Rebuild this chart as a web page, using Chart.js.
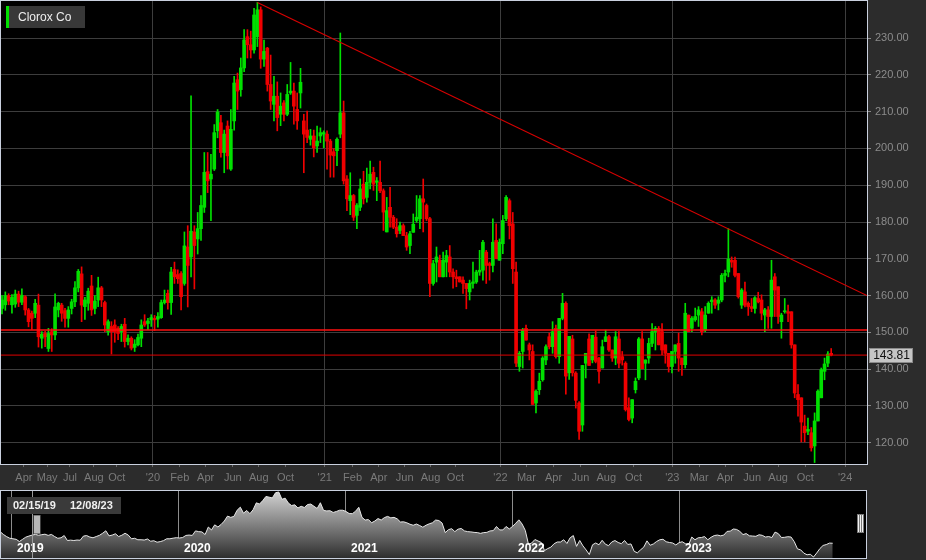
<!DOCTYPE html>
<html><head><meta charset="utf-8">
<script src="https://cdn.jsdelivr.net/npm/chart.js@4/dist/chart.umd.min.js"></script>
<style>
html,body{margin:0;padding:0;background:#2c2c2c;}
#wrap{position:relative;width:926px;height:560px;overflow:hidden;}
canvas{position:absolute;left:0;}
#main{top:0}
#nav{top:490px}
</style></head><body>
<div id="wrap"><canvas id="main" width="926" height="490"></canvas><canvas id="nav" width="926" height="70"></canvas></div>
<script>
const FONT = "'Liberation Sans', Arial, sans-serif";
const title = 'Clorox Co';
const rangeFrom = '02/15/19', rangeTo = '12/08/23';

// weekly candles from 02/15/19, index = week number
const open = [
  156.5,157.5,160,157.5,157.7,160.4,158.2,159.7,156.1,155.2,
  155.2,157.4,148.4,149.7,145.6,150.2,149.3,156.1,157.4,155.9,
  153.8,156.5,158.3,162.1,165.9,157,157.9,162.6,156.5,158.8,
  162.1,158.1,150.2,151.6,152,151.1,150.2,152.2,147.5,148.4,
  145.9,146.6,148.4,152.9,152.4,153.4,153.8,153.6,154,158.1,
  160.6,158.1,167.1,165.7,166,163.3,173.2,170.5,177.3,175.4,
  178.2,184,193.7,191.7,194.4,204.8,207,198.9,206.1,194.4,
  207.5,218.7,216,221.9,230.4,228.2,226.8,230.4,237.7,224.3,
  227.3,217.4,212,214.2,209.3,212.4,209.3,215.1,215.6,210.6,
  215.1,207.5,205,202.5,203.4,200.7,203.4,203.9,203.9,202,
  199.1,199.4,203.9,209.7,191.7,185.8,187.2,181.8,184,190.3,
  186.7,190.8,193.5,190.8,190.8,188.5,177.3,184,181.3,178.6,
  177.7,179,176.3,173.6,177.2,180.4,180.9,186.3,184.5,180.9,
  163.3,169.1,169.6,165.1,169.1,170.5,166.4,165.1,165.1,164.2,
  163.3,161,163.3,163.7,166.4,166.9,171.8,168.7,168.2,175,
  169.6,174.1,180.9,185.8,179.5,166.4,140.7,144.8,151.1,146.6,
  144.8,130.8,134.4,137.1,142.5,148.8,146.1,151.1,143.4,153.8,
  157.9,139,148.2,138.9,130.8,124.8,141.6,148.2,142.5,148.7,
  143,140.3,147.5,148.8,145.2,143,148.2,143.4,141.6,129.5,
  126.7,134.4,137.6,148.2,141.6,143,147,150.2,151.1,150.2,
  146.6,144.3,140.7,144.8,147,143,141.2,154.7,151.1,153.4,
  154.7,155.6,150.6,155.2,158.3,158.8,157.9,158.8,165.5,166.4,
  169.6,169.6,166,157.4,161,157.9,157,156.5,159.2,158.8,
  154.7,156.1,154.3,165.1,162.4,152.9,155.6,155.6,155.6,146.6,
  133.1,132.2,124.5,123.1,122.7,119.1,125.9,132.2,139.4,141.6,144.3
];
const high = [
  160,161,160.5,160.3,161.5,161.2,161.8,160,156.5,155.8,
  159,160.4,150.2,150.3,151.1,151,160.5,158.2,157.9,156.5,
  157,159,163.8,167.1,167.8,159.5,162,165.5,160,165,
  162.5,158.5,153.4,152.9,153.4,151.6,152.2,153.8,149.3,148.8,
  148,149.5,153.4,154.8,153.8,154.8,154.6,155.4,158.8,161.5,
  161.5,167.7,169.1,167,166.5,177.3,179,214.3,179,182.6,
  187.2,198.9,198.9,198.4,206.5,210.6,209,205,207.5,210.6,
  219.6,220.5,224.6,232.3,232.3,231.9,238.1,239.7,238.5,229.5,
  227.5,225.4,219.6,218.1,215.1,213,217.4,223.4,217.8,215.1,
  221.8,209.3,210.2,205.2,205,206.1,205.6,204.8,204.8,202.5,
  200,202.9,231.4,212.9,192.6,193.4,187.5,185,191.7,193.8,
  194.7,196.6,194.9,192.1,196.6,189,186.7,189.4,181.8,180.9,
  180,179.5,177.2,177.5,182.2,187.2,187.2,191.7,184.9,181.3,
  169.6,173.2,171,171.8,172.3,173.6,167.3,166.9,165.1,165.1,
  163.3,164.2,169.1,166.9,172.3,175,172.3,169.1,180.9,179.5,
  175.4,181.8,187.2,186.3,182.6,169.1,144.8,151.1,152,147.1,
  146.6,134.4,138.9,143.4,146.6,149.8,152.9,152,153.8,160.6,
  158.3,148.9,149.2,139.3,131.2,141,144.3,149.6,149.2,150.4,
  143.2,147.9,150.6,149.2,145.2,150.2,150.2,144.8,142,132.2,
  131.7,137.6,148.6,150.2,142.5,148.4,152.4,151.6,151.6,152.4,
  146.6,144.3,144.8,146.6,149.8,143,157.9,154.7,154.3,156.6,
  157,156.5,157,158.3,159.7,159.2,159.7,166,166.9,178.2,
  170.5,170.5,166,161.9,163.7,158.3,159.2,159.7,160.9,160.2,
  156.5,157,169.6,166,162.4,155.2,159.2,157.4,155.6,146.6,
  135.8,132.2,127.5,126.7,124.1,128.1,134.4,140.3,143,144.8,145.6
];
const low = [
  155,156,157.5,155.2,156.8,157,157.5,154.7,151.5,150.8,
  154,146,145.7,146.1,144.8,144.8,148,154.2,153,151.4,
  151.4,155,157,161,152.9,153.5,156,154.6,155,157,
  157,150.2,149.2,144.1,147.3,148,147.5,146,146.6,145.2,
  144.8,146.3,146.1,151.6,150.7,151.6,150.5,151.4,153.8,157.7,
  156.3,154.9,163.3,163.3,156.1,162.8,156.9,165.1,161.8,171.3,
  175,182.6,188,180.4,194,202.9,197.6,193.4,194.4,194,
  205,210.6,214.2,220.9,224.6,224.6,225.9,227.7,221.8,222.3,
  215.6,210.6,207.5,204.8,206.2,207.5,208.9,214.7,206.6,205.2,
  211,193.4,201.6,200.9,197.7,198.9,201.6,200.2,194.4,192.2,
  192.2,195.3,202.9,190.3,183.1,182,180.4,178.2,183.1,184.9,
  185.4,189,188.6,185.8,188,177.7,177.3,178.6,178.2,175.9,
  176.8,176.3,172.3,171.4,177.2,179.9,178.2,177.3,180.4,159.7,
  162.8,163.7,165.1,165.1,165.1,165.1,162,162.4,163.7,160.6,
  156.4,158.8,162,163.3,165.5,164.2,163.3,164.2,166.4,170,
  169.6,171.4,180.4,175.4,163.3,140.7,139.4,140.3,147.9,142.5,
  130.4,128.1,133.1,136.7,141.2,145.5,144.3,143,141.6,153.4,
  133.2,137.2,138.1,129.4,120.9,123.1,137.6,141,141.7,141.7,
  136.2,140.3,147.5,144.8,142.1,141.2,140.3,141.1,128.6,125.9,
  125.4,133.5,137.1,140.1,137.1,141.6,146.1,145.2,146.6,143.9,
  141.6,139.2,139,141.6,139.4,138.3,140.3,150.2,150.2,153,
  151.6,149.3,150.2,155.2,155.2,156.5,156.1,158.3,163.7,165.1,
  167.7,165.1,159.3,156.5,156.9,154.6,155.6,155.2,158,153.4,
  150.2,151.1,151.1,154.3,152.4,148.4,155.2,152.9,145.7,132.2,
  127.2,120.2,120.2,122.2,117.7,114.6,125.9,132.2,137.1,140.7,143.6
];
const close = [
  158.8,160,158.5,159.5,160.4,158.2,160,156.1,152.9,153.8,
  157.9,148.8,149.5,148.8,149.7,149.3,156.9,157.9,155.2,153.8,
  156.1,158.3,162.1,166.6,157.4,158.8,161.2,156.1,158.5,162.1,
  158.8,152,152.9,150.2,150.2,149.7,151.6,147.5,148.4,145.7,
  146.8,148.6,152,152,153.1,154,153.4,154.3,158.1,158.8,
  158.1,166.4,165.1,164.6,159.7,173.5,168.2,177.5,173.6,178.2,
  184.5,193.5,191.2,193,204.3,209.9,198.9,203.9,198,205.2,
  217.8,215.6,221.9,229.5,228.2,226.8,236.3,237.7,224.3,226.4,
  217.4,212.9,214.2,208.4,211.5,209.3,214.7,215.6,211.5,207.5,
  218,203.9,203,203.4,200.2,202,204.3,204.3,202,198.2,
  198,202.5,209.7,191.2,186.3,187.2,181.3,184.5,189,186.3,
  190.8,193,190.3,191.2,188.5,182.7,183.1,181.3,178.6,176.8,
  179,176.3,173.2,176.8,179.4,181.3,186.3,185.4,180.9,163.3,
  168.7,170.5,165.1,169.6,170.9,166.4,165.1,164.6,163.7,163.3,
  161.9,163.3,163.7,166.4,166.9,174.5,168.2,168.2,174.5,170,
  174.5,180.4,186.7,179,167.3,141.6,144.3,150.6,147.9,145.2,
  130.4,134,136.7,143,146.1,146.1,150.2,143.4,153.8,157.9,
  138.1,148.9,139,131.5,123.1,141,144.3,141,149.2,142.1,
  139.4,146.1,148.8,145.2,143,148.8,141.6,142.5,129,126.3,
  131.7,136.7,148.2,140.1,142.5,147,150.2,151.1,146.6,145.2,
  144.3,140.7,144.8,146.6,143,141.2,155.2,150.2,153.8,154.3,
  156.1,150.2,154.7,157.9,158.8,157.4,158.8,165.5,166,169.9,
  169.1,165.5,159.7,161.5,157.4,157,156.5,159.4,158.3,155.2,
  156.1,154.3,164.2,161.5,154.3,154.7,155.8,155.2,146.6,133.5,
  131.7,125.6,122.7,123.6,118.6,125.9,134,139.8,141.4,144.1,143.81
];
// navigator only: weekly closes before 02/15/19
const navLead = [165,160,156,153,152,151,147,151,155,157];

const tickWeeks = [6.6,13.6,20.5,27.7,34.6,45.5,53.6,61.4,69.6,77.4,85.5,97.3,105.7,113.6,121.4,129.2,136.7,
  150.3,158.1,166.3,174.4,182.2,190.4,202.1,210.2,218.1,226.2,234,242.2,254.2];
const tickLabels = ['Apr','May','Jul','Aug','Oct',"'20",'Feb','Apr','Jun','Aug','Oct',"'21",'Feb','Apr','Jun','Aug','Oct',
  "'22",'Mar','Apr','Jun','Aug','Oct',"'23",'Mar','Apr','Jun','Aug','Oct',"'24"];
const priceTicks = [120,130,140,150,160,170,180,190,200,210,220,230];
const navYears = ['2019','2020','2021','2022','2023'];
const navYearWeeks = [-6.4,45.7,98.0,150.1,202.3];
const levelPrice = 150.65;
const trendFrom = [77, 239.7], trendTo = [260.8, 160];

const UP = '#00e000', DN = '#f00000';
const weeks = close.map((_, i)=>i);
const col = weeks.map(i=>close[i]>=open[i]?UP:DN);
const last = close[close.length-1];
const xMin = -0.3, xMax = 260.8;

const mainDeco = {
  id:'mainDeco',
  beforeDraw(c){
    const {ctx, chartArea:a} = c;
    ctx.save();
    ctx.fillStyle = '#2c2c2c'; ctx.fillRect(0,0,c.width,c.height);
    ctx.fillStyle = '#000'; ctx.fillRect(a.left,a.top,a.right-a.left,a.bottom-a.top);
    ctx.restore();
  },
  afterDraw(c){
    const {ctx, chartArea:a, scales:{y}} = c;
    ctx.save();
    ctx.strokeStyle = '#c9d0de'; ctx.lineWidth = 1;
    ctx.strokeRect(a.left-0.5,a.top-0.5,a.right-a.left+1,a.bottom-a.top+1);
    // series label
    ctx.fillStyle = '#383838'; ctx.fillRect(6,6,79,22);
    ctx.fillStyle = UP; ctx.fillRect(6,6,3,22);
    ctx.fillStyle = '#eeeeee'; ctx.font = '12px '+FONT; ctx.textBaseline = 'middle';
    ctx.fillText(title,18,17.5);
    // last price tag
    const py = Math.round(y.getPixelForValue(last));
    ctx.fillStyle = '#c6c6c6'; ctx.fillRect(a.right+2,py-7,44,15);
    ctx.strokeStyle = '#8a8a8a'; ctx.strokeRect(a.right+2.5,py-6.5,43,14);
    ctx.fillStyle = '#111'; ctx.textAlign = 'center';
    ctx.fillText(last.toFixed(2),a.right+24.5,py+1);
    ctx.restore();
  }
};

new Chart(document.getElementById('main'), {
  type:'bar',
  data:{datasets:[
    {type:'line', data:[{x:xMin,y:last},{x:xMax,y:last}], borderColor:'#e00000', borderWidth:1, pointRadius:0},
    {type:'line', data:[{x:xMin,y:levelPrice},{x:xMax,y:levelPrice}], borderColor:'#ff1010', borderWidth:1.6, pointRadius:0},
    {type:'line', data:[{x:trendFrom[0],y:trendFrom[1]},{x:trendTo[0],y:trendTo[1]}], borderColor:'#d80000', borderWidth:1.2, pointRadius:0},
    {data:weeks.map(i=>({x:i,y:[open[i],close[i]]})), backgroundColor:col, barThickness:3, minBarLength:1, grouped:false},
    {data:weeks.map(i=>({x:i,y:[low[i],high[i]]})), backgroundColor:col, barThickness:1, grouped:false}
  ]},
  options:{
    responsive:false, animation:false, devicePixelRatio:1,
    layout:{padding:{left:1,top:1,right:0,bottom:0}},
    plugins:{legend:{display:false}, tooltip:{enabled:false}},
    scales:{
      x:{type:'linear', min:xMin, max:xMax, offset:false,
        afterBuildTicks:s=>{ s.ticks = tickWeeks.map(v=>({value:v})); },
        afterFit:s=>{ s.height = 26; s.paddingLeft = 0; s.paddingRight = 0; },
        grid:{offset:false, color:c=>(tickLabels[c.index]||'').startsWith("'")?'#3d3d3d':'rgba(0,0,0,0)', tickColor:'#6a6a6a', tickLength:3},
        border:{display:false},
        ticks:{autoSkip:false, maxRotation:0, color:'#7a7a7a', font:{family:FONT,size:11}, padding:4, callback:(v,i)=>tickLabels[i]}
      },
      y:{position:'right', min:114.2, max:240.1,
        afterBuildTicks:s=>{ s.ticks = priceTicks.map(v=>({value:v})); },
        afterFit:s=>{ s.width = 59; s.paddingTop = 0; s.paddingBottom = 0; },
        grid:{color:'#3d3d3d', tickColor:'#8a8a8a', tickLength:4},
        border:{display:false},
        ticks:{color:'#8c8c8c', font:{family:FONT,size:11}, padding:4, callback:v=>v.toFixed(2)}
      }
    }
  },
  plugins:[mainDeco]
});

// navigator
const navX = navLead.map((_, k)=>k-navLead.length).concat(weeks);
const navY = navLead.concat(close);

function handle(ctx, x, y){
  ctx.fillStyle = '#7a7a7a'; ctx.fillRect(x,y,7,19);
  ctx.fillStyle = '#f2f2f2';
  [1,3,5].forEach(d=>ctx.fillRect(x+d,y+1,1,17));
}

const navDeco = {
  id:'navDeco',
  beforeDraw(c){
    const {ctx, chartArea:a} = c;
    ctx.save();
    ctx.fillStyle = '#2c2c2c'; ctx.fillRect(0,0,c.width,c.height);
    ctx.fillStyle = '#000'; ctx.fillRect(a.left,a.top,a.right-a.left,a.bottom-a.top);
    ctx.restore();
  },
  afterDatasetsDraw(c){
    const {ctx, chartArea:a, scales:{x}} = c;
    ctx.save();
    ctx.font = 'bold 12px '+FONT; ctx.fillStyle = '#fff'; ctx.textBaseline = 'middle';
    navYears.forEach((t,k)=>ctx.fillText(t, Math.round(x.getPixelForValue(navYearWeeks[k]))+5, 59));
    const x0 = Math.round(x.getPixelForValue(0))+0.5;
    ctx.strokeStyle = '#9a9a9a'; ctx.beginPath(); ctx.moveTo(x0,a.top); ctx.lineTo(x0,a.bottom); ctx.stroke();
    handle(ctx, x0+1, 25);
    handle(ctx, a.right-9, 24);
    ctx.font = 'bold 11px '+FONT;
    [[7,rangeFrom],[64,rangeTo]].forEach(([bx,t])=>{
      ctx.fillStyle = '#3a3a3a'; ctx.fillRect(bx,7,57,17);
      ctx.fillStyle = '#f0f0f0'; ctx.fillText(t,bx+6,16);
    });
    ctx.restore();
  },
  afterDraw(c){
    const {ctx, chartArea:a} = c;
    ctx.save();
    ctx.strokeStyle = '#c9d0de';
    ctx.strokeRect(a.left-0.5,a.top-0.5,a.right-a.left+1,a.bottom-a.top+1);
    ctx.restore();
  }
};

new Chart(document.getElementById('nav'), {
  type:'line',
  data:{datasets:[{
    data:navX.map((v,k)=>({x:v,y:navY[k]})),
    borderColor:'#e6e6e6', borderWidth:1, pointRadius:0, fill:'start',
    backgroundColor:ctx=>{
      const a = ctx.chart.chartArea;
      if(!a) return '#666';
      const g = ctx.chart.ctx.createLinearGradient(0,a.top,0,a.bottom);
      g.addColorStop(0,'#d4d4d4'); g.addColorStop(1,'#2e2e2e');
      return g;
    }
  }]},
  options:{
    responsive:false, animation:false, devicePixelRatio:1,
    layout:{padding:{left:1,right:60,top:1,bottom:2}},
    plugins:{legend:{display:false}, tooltip:{enabled:false}},
    scales:{
      x:{type:'linear', min:-9.74, max:260.4,
        afterBuildTicks:s=>{ s.ticks = navYearWeeks.map(v=>({value:v})); },
        afterFit:s=>{ s.height = 0; },
        grid:{color:'#8c8c8c', drawTicks:false}, border:{display:false}, ticks:{display:false}},
      y:{display:false, min:116.8, max:239.5}
    }
  },
  plugins:[navDeco]
});
</script></body></html>
